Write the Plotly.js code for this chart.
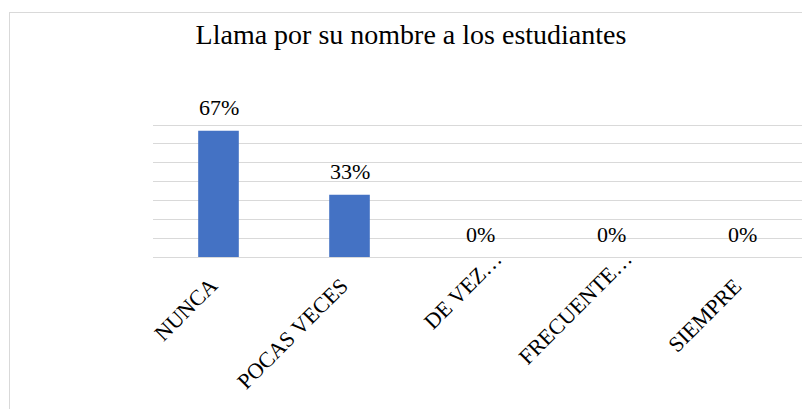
<!DOCTYPE html>
<html>
<head>
<meta charset="utf-8">
<script src="https://cdn.plot.ly/plotly-3.0.1.min.js"></script>
<style>
  html, body { margin: 0; padding: 0; overflow: hidden; background: #ffffff; width: 802px; height: 409px; }
  #frame { position: absolute; left: 9px; top: 12px; width: 900px; height: 500px; border: 1px solid #d9d9d9; }
  #chart { position: absolute; left: 0; top: 0; width: 810px; height: 409px; }
</style>
</head>
<body>
<div id="frame"></div>
<div id="chart"></div>
<script>
const categories = ["NUNCA", "POCAS VECES", "DE VEZ…", "FRECUENTE…", "SIEMPRE"];
const values = [0.67, 0.33, 0, 0, 0];
const valueLabels = ["67%", "33%", "0%", "0%", "0%"];
const chartTitle = "Llama por su nombre a los estudiantes";

const serif = "Liberation Serif";

const trace = {
  type: "bar",
  x: categories,
  y: values,
  marker: { color: "#4472C4" },
  hoverinfo: "none"
};

const valueAnnotations = categories.map((c, i) => ({
  x: c,
  y: values[i],
  xref: "x",
  yref: "y",
  text: valueLabels[i],
  showarrow: false,
  yanchor: "middle",
  yshift: 23,
  font: { family: serif, size: 22, color: "#000000" }
}));

// Category labels drawn at each category on the x axis, rotated like the original
const categoryAnnotations = categories.map((c) => {
  const truncated = c.endsWith("…");
  return {
    x: c,
    y: 0,
    xref: "x",
    yref: "y",
    text: c,
    showarrow: false,
    textangle: -45,
    xanchor: "right",
    yanchor: "top",
    xshift: truncated ? 27 : 5,
    yshift: truncated ? 12 : -15,
    borderpad: 0,
    font: { family: serif, size: 22, color: "#000000" }
  };
});

const layout = {
  width: 810,
  height: 409,
  margin: { l: 153, r: 2, t: 124, b: 152 },
  paper_bgcolor: "rgba(0,0,0,0)",
  plot_bgcolor: "#ffffff",
  showlegend: false,
  bargap: 0.69,
  font: { family: serif },
  title: {
    text: chartTitle,
    font: { family: serif, size: 28, color: "#000000" },
    x: 411 / 810,
    xref: "container",
    xanchor: "center",
    y: 1 - 34 / 409,
    yref: "container",
    yanchor: "middle"
  },
  xaxis: {
    type: "category",
    range: [-0.5, 4.5],
    ticks: "",
    showline: false,
    showgrid: false,
    showticklabels: false
  },
  yaxis: {
    range: [0, 0.7055],
    dtick: 0.1,
    showticklabels: false,
    ticks: "",
    showline: false,
    gridcolor: "#d9d9d9",
    gridwidth: 1,
    zeroline: true,
    zerolinecolor: "#d9d9d9",
    zerolinewidth: 1
  },
  annotations: valueAnnotations.concat(categoryAnnotations)
};

Plotly.newPlot("chart", [trace], layout, { staticPlot: true, displayModeBar: false });
</script>
</body>
</html>
